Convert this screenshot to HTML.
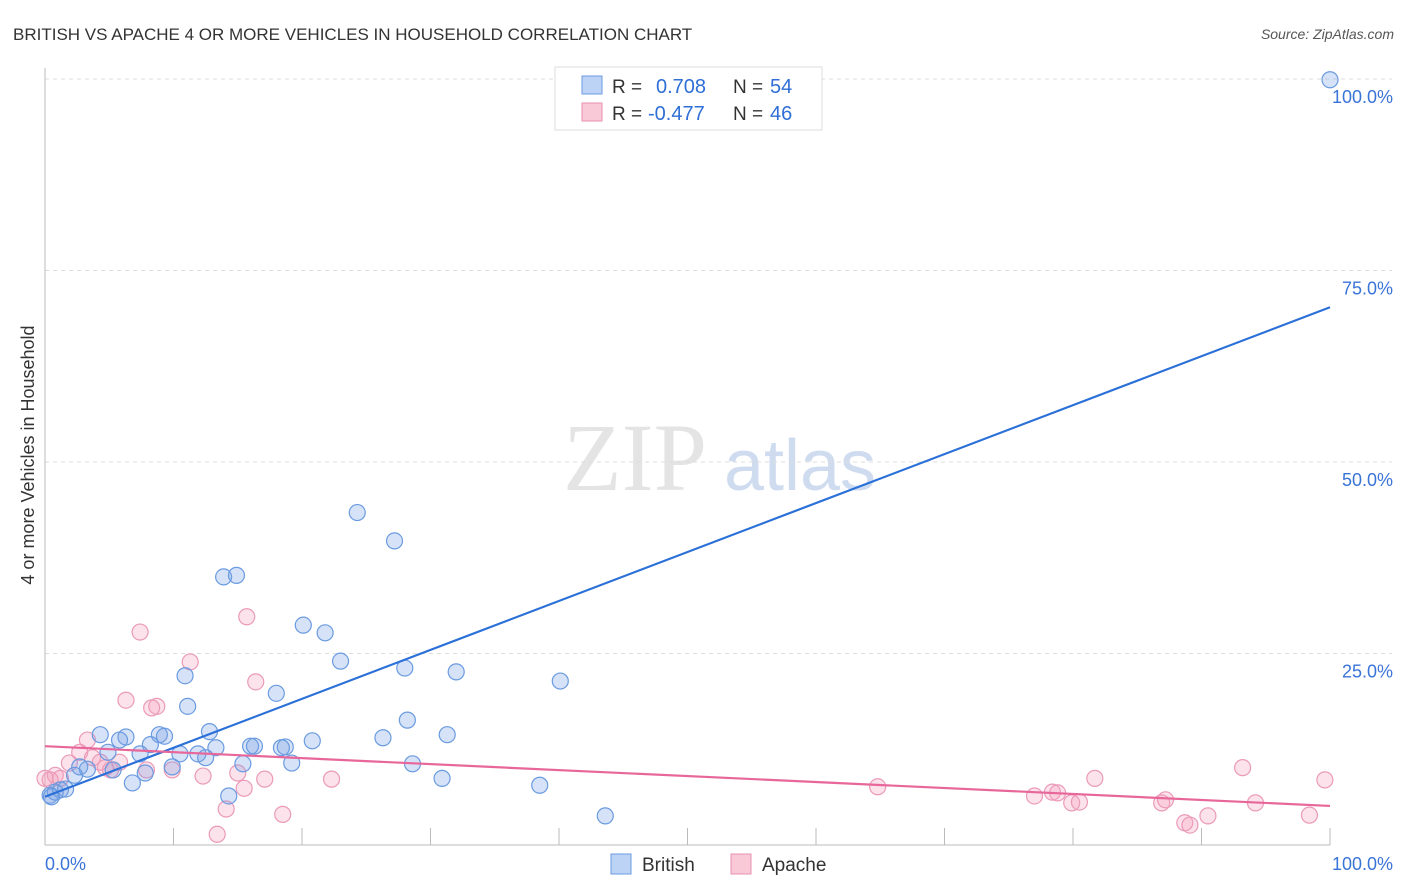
<!DOCTYPE html>
<html><head><meta charset="utf-8"><style>
body{margin:0;background:#fff;font-family:"Liberation Sans",sans-serif}
svg{display:block}
</style></head><body>
<svg id="chart" width="1406" height="892">
<text x="13" y="40" font-size="17" fill="#333">BRITISH VS APACHE 4 OR MORE VEHICLES IN HOUSEHOLD CORRELATION CHART</text>
<text x="1394" y="39" font-size="14" fill="#555" font-style="italic" text-anchor="end">Source: ZipAtlas.com</text>
<text transform="translate(34,455) rotate(-90)" font-size="18" fill="#333" text-anchor="middle">4 or more Vehicles in Household</text>
<g><text x="635" y="490" font-size="96" font-family="Liberation Serif" fill="#e4e4e4" text-anchor="middle">ZIP</text><text x="800" y="490" font-size="72" fill="#cfdcf0" text-anchor="middle">atlas</text></g>
<g id="grid"></g><g id="axes"></g><g id="pts"></g><g id="lines"></g>
<g>
<rect x="555" y="67" width="267" height="63" fill="#fff" stroke="#ddd"/>
<rect x="582" y="76" width="20" height="18" fill="#bcd3f5" stroke="#6a9be0"/>
<rect x="582" y="103" width="20" height="18" fill="#f9c9d8" stroke="#e890b0"/>
<text x="612" y="93" font-size="19" fill="#333">R = </text><text x="656" y="93" font-size="20" fill="#2f6fd6">0.708</text>
<text x="733" y="93" font-size="19" fill="#333">N = </text><text x="770" y="93" font-size="20" fill="#2f6fd6">54</text>
<text x="612" y="120" font-size="19" fill="#333">R = </text><text x="648" y="120" font-size="20" fill="#2f6fd6">-0.477</text>
<text x="733" y="120" font-size="19" fill="#333">N = </text><text x="770" y="120" font-size="20" fill="#2f6fd6">46</text>
</g>
<g>
<rect x="611" y="854" width="20" height="20" fill="#bcd3f5" stroke="#6a9be0"/><text x="642" y="871" font-size="19" fill="#333">British</text>
<rect x="731" y="854" width="20" height="20" fill="#f9c9d8" stroke="#e890b0"/><text x="762" y="871" font-size="19" fill="#333">Apache</text>
</g>
</svg>
<script>
const yTicks=[100,75,50,25];
const yTickLabels=["100.0%","75.0%","50.0%","25.0%"];
const xTickLabels=["0.0%","100.0%"];
const britishX=[100,24.3,27.2,13.9,14.9,20.1,21.8,23.0,28.0,32.0,40.1,10.9,18.0,11.1,28.2,12.8,4.3,6.3,8.9,9.3,31.3,26.3,20.8,8.2,5.8,16.0,16.3,18.7,13.3,4.9,10.5,11.9,12.5,7.4,19.2,28.6,15.4,9.9,2.7,3.3,5.3,7.8,2.3,30.9,6.8,38.5,1.6,0.8,0.4,1.2,14.3,43.6,0.5,18.4];
const britishY=[99.9,43.4,39.7,35.0,35.2,28.7,27.7,24.0,23.1,22.6,21.4,22.1,19.8,18.1,16.3,14.8,14.4,14.1,14.4,14.2,14.4,14.0,13.6,13.1,13.7,12.9,12.9,12.8,12.7,12.1,11.9,11.9,11.4,11.9,10.7,10.6,10.6,10.2,10.2,9.9,9.8,9.4,9.1,8.7,8.1,7.8,7.3,6.9,6.5,7.2,6.4,3.8,6.3,12.7];
const apacheX=[7.4,15.7,11.3,16.4,6.3,8.7,8.3,3.3,2.7,3.7,1.9,5.8,4.7,5.1,7.9,9.9,0.8,1.2,0.4,15.0,17.1,22.3,12.3,15.5,14.1,18.5,13.4,64.8,81.7,77.0,78.4,78.8,79.9,80.5,86.9,87.2,88.7,89.1,90.5,93.2,94.2,98.4,99.6,0,4.3];
const apacheY=[27.8,29.8,23.9,21.3,18.9,18.1,17.9,13.7,12.1,11.4,10.7,10.8,10.1,9.8,9.8,9.8,9.1,8.7,8.5,9.4,8.6,8.6,9.0,7.4,4.7,4.0,1.4,7.6,8.7,6.4,6.9,6.8,5.5,5.6,5.5,5.9,2.9,2.6,3.8,10.1,5.5,3.9,8.5,8.7,10.8];
const britishTrend=[6.3,70.2];
const apacheTrend=[12.9,5.1];
const NS="http://www.w3.org/2000/svg";
const sx=v=>45+v*12.85, sy=v=>845-v*7.66;
function mk(t,a,p){const e=document.createElementNS(NS,t);for(const k in a)e.setAttribute(k,a[k]);p.appendChild(e);return e;}
const grid=document.getElementById('grid'),axes=document.getElementById('axes'),pts=document.getElementById('pts'),lines=document.getElementById('lines');
yTicks.forEach((v,i)=>{
 const l=mk('line',{x1:45,x2:1392,y1:sy(v),y2:sy(v),stroke:'#ddd','stroke-dasharray':'4,4'},grid);
 
 
 const t=mk('text',{x:1393,y:sy(v)+24,'font-size':18,fill:'#3a74d8','text-anchor':'end'},grid);
 t.textContent=yTickLabels[i];
 
 
});
mk('line',{x1:45,x2:45,y1:68,y2:845,stroke:'#bbb'},axes);
mk('line',{x1:45,x2:1330,y1:845,y2:845,stroke:'#bbb'},axes);
for(let i=1;i<=10;i++){mk('line',{x1:sx(i*10),x2:sx(i*10),y1:828,y2:845,stroke:'#bbb'},axes);}
const xl0=mk('text',{x:45,y:870,'font-size':18,fill:'#3a74d8'},axes);xl0.textContent=xTickLabels[0];


const xl1=mk('text',{x:1393,y:870,'font-size':18,fill:'#3a74d8','text-anchor':'end'},axes);xl1.textContent=xTickLabels[1];


apacheX.forEach((x,i)=>{const c=mk('circle',{cx:sx(x),cy:sy(apacheY[i]),r:8,fill:'rgba(244,160,190,0.3)',stroke:'#eb9ab8','stroke-width':1.2},pts);
 
 });
britishX.forEach((x,i)=>{const c=mk('circle',{cx:sx(x),cy:sy(britishY[i]),r:8,fill:'rgba(120,160,230,0.3)',stroke:'#6a9be0','stroke-width':1.2},pts);
 
 });
const bl=mk('line',{x1:sx(0),y1:sy(britishTrend[0]),x2:sx(100),y2:sy(britishTrend[1]),stroke:'#2a70d8','stroke-width':2.2},lines);


const al=mk('line',{x1:sx(0),y1:sy(apacheTrend[0]),x2:sx(100),y2:sy(apacheTrend[1]),stroke:'#e8679a','stroke-width':2.2},lines);


</script>
</body></html>
